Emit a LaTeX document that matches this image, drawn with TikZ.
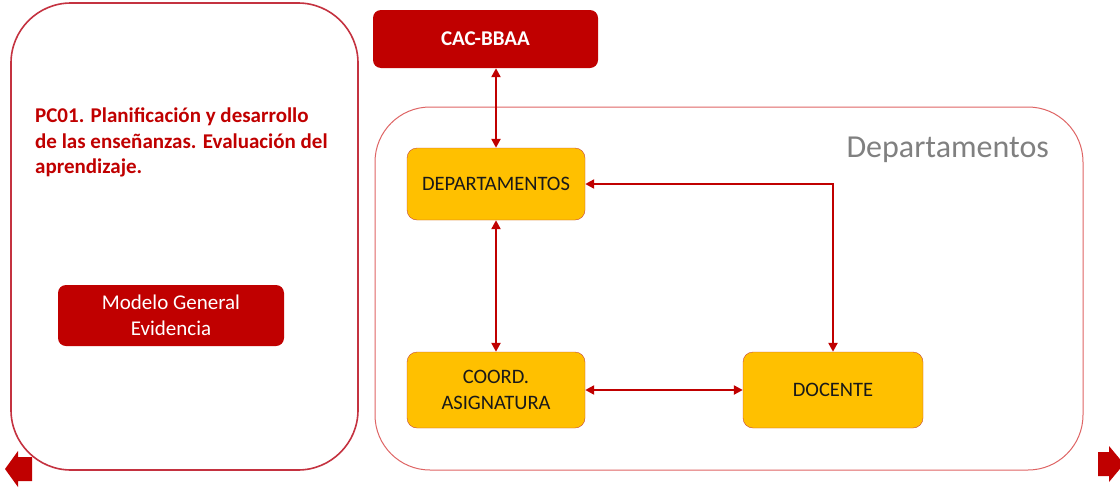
\documentclass[tikz,border=0pt]{standalone}
\usepackage{fontspec}
\setmainfont{Carlito}
\usetikzlibrary{arrows.meta}
\definecolor{procred}{RGB}{192,0,0}
\definecolor{panelred}{RGB}{196,50,64}
\definecolor{framered}{RGB}{222,100,100}
\definecolor{boxedge}{RGB}{196,72,60}
\definecolor{deptgold}{RGB}{255,192,0}
\definecolor{deptgray}{RGB}{128,128,128}

\begin{document}
\begin{tikzpicture}[x=1pt,y=-1pt,>={Triangle[length=9pt,width=9pt]},
    redbox/.style={fill=procred,rounded corners=8pt,text=white,align=center,inner sep=0pt},
    goldbox/.style={draw=boxedge,fill=deptgold,rounded corners=10pt,align=center,
      minimum width=178pt,minimum height=75pt,inner sep=0pt,text=black!90,
      font=\fontsize{20.5}{26}\selectfont},
    link/.style={<->,procred,line width=2.6pt}]
    \useasboundingbox (0,0) rectangle (1120,493);
    % panels
    \draw[panelred,line width=1.6pt,rounded corners=60pt] (11,3) rectangle (358,470);
    \draw[framered,line width=1pt,rounded corners=55pt] (375,107) rectangle (1083,470);
    \node[anchor=west,text=deptgray,font=\fontsize{32}{38}\selectfont]
      (depttitle) at (843,150) {Departamentos};
    % left side
    \node[anchor=north west,align=left,text=procred,inner sep=0pt,
      font=\fontsize{21}{25.5}\selectfont\bfseries] (pc01) at (35,108)
      {PC01. Planificación y desarrollo\\de las enseñanzas. Evaluación del\\aprendizaje.};
    \node[redbox,minimum width=226pt,minimum height=61pt,
      font=\fontsize{21}{26}\selectfont] (modelo) at (171,315.5)
      {Modelo General\\Evidencia};
    % boxes
    \node[redbox,minimum width=225pt,minimum height=58pt,
      font=\fontsize{21}{25}\selectfont\bfseries] (cac) at (485.5,39) {CAC-BBAA};
    \node[goldbox,minimum height=72pt] (dept) at (496,184) {DEPARTAMENTOS};
    \node[goldbox,minimum height=76pt] (coord) at (496,390) {COORD.\\ASIGNATURA};
    \node[goldbox,minimum width=180pt,minimum height=76pt] (docente) at (833,390) {DOCENTE};
    % links
    \draw[link] (dept.north |- cac.south) -- (dept.north);
    \draw[link] (dept.south) -- (coord.north);
    \draw[link] (coord.east) -- (docente.west);
    \draw[link] (dept.east) -| (docente.north);
    % page arrows
    \fill[procred] (5,469) -- (18,451) -- (18,457) -- (32,457) -- (32,481)
      -- (18,481) -- (18,487) -- cycle;
    \fill[procred] (1124,464) -- (1109,446) -- (1109,452) -- (1098,452) -- (1098,476)
      -- (1109,476) -- (1109,482) -- cycle;
\end{tikzpicture}
\end{document}
